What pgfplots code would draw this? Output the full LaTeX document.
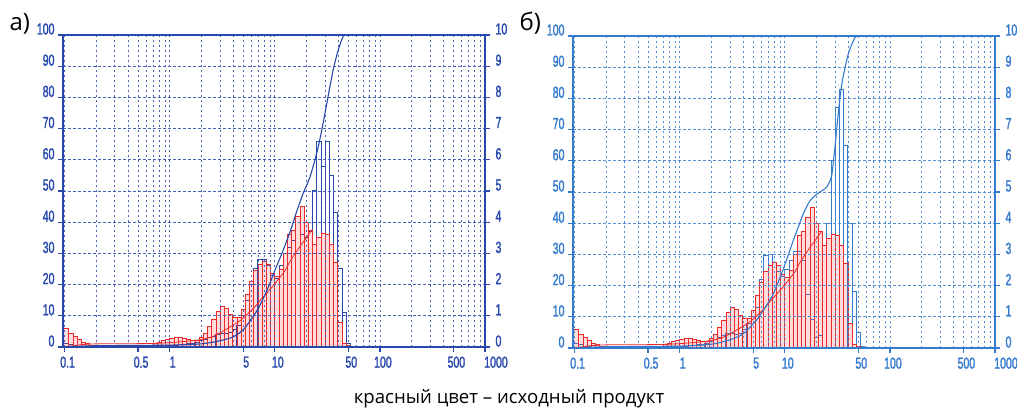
\documentclass[border=0pt]{standalone}
\usepackage{fontspec}
\setmainfont{Open Sans}
\newfontfamily\narrow[FakeStretch=0.66, FakeBold=1.5]{Liberation Sans}
\usepackage{pgfplots}
\usepackage{pgfplotstable}
\pgfplotsset{compat=1.18}

\definecolor{bA}{RGB}{40,72,172}
\definecolor{bB}{RGB}{52,122,205}
\definecolor{rd}{RGB}{238,40,40}

% red = initial product (same in both panels); dQ3 per bin, x = left bin edge
\pgfplotstableread{
x y
0.0965 0.6
0.1096 0.45
0.1202 0.33
0.1318 0.23
0.1445 0.16
0.1585 0.1
0.1738 0.06
0.1905 0.03
0.2089 0.02
0.2291 0
}\redLo
\pgfplotstableread{
x y
0.6310 0.05
0.6918 0.1
0.7586 0.15
0.8318 0.2
0.9120 0.25
1.0000 0.28
1.0965 0.3
1.2023 0.3
1.3183 0.28
1.4454 0.25
1.5849 0.22
1.7378 0.22
1.9055 0.3
2.0893 0.45
2.2909 0.65
2.5119 0.9
2.7542 1.15
3.0200 1.3
3.3113 1.25
3.6308 1.05
3.9811 0.95
4.3652 0.95
4.7863 1.2
5.2481 1.7
5.7544 2.1
6.3096 2.45
6.9183 2.65
7.5858 2.75
8.3176 2.65
9.1201 2.35
10.000 2.25
10.965 2.5
12.023 3.0
13.183 3.6
14.454 3.75
15.849 4.2
17.378 4.5
19.055 4.0
20.893 3.75
22.909 3.3
25.119 3.5
27.542 3.65
30.200 3.6
33.113 3.3
36.308 2.7
39.811 0.8
43.652 0.1
47.863 0.05
52.481 0
}\redMain
\pgfplotstableread{
x y
0.0965 0.12
0.1096 0.08
0.1202 0.05
0.1318 0.03
0.1445 0.02
0.1585 0
}\blueALo
\pgfplotstableread{
x y
0.8318 0.02
0.9120 0.04
1.0000 0.05
1.0965 0.06
1.2023 0.07
1.3183 0.08
1.4454 0.1
1.5849 0.12
1.7378 0.15
1.9055 0.2
2.0893 0.25
2.2909 0.3
2.5119 0.35
2.7542 0.4
3.0200 0.42
3.3113 0.42
3.6308 0.45
3.9811 0.55
4.3652 0.7
4.7863 1.0
5.2481 1.5
5.7544 2.0
6.3096 2.5
6.9183 2.8
7.5858 2.8
8.3176 2.6
9.1201 2.3
10.000 2.2
10.965 2.6
12.023 3.0
13.183 3.2
14.454 3.4
15.849 3.0
17.378 3.6
19.055 3.5
20.893 3.7
22.909 5.0
25.119 6.6
27.542 5.8
30.200 6.6
33.113 5.5
36.308 4.3
39.811 2.5
43.652 1.1
47.863 0.1
52.481 0
}\blueAMain
\pgfplotstableread{
x y
0.0965 0.15
0.1096 0.1
0.1202 0.06
0.1318 0.04
0.1445 0.02
0.1585 0
}\blueBLo
\pgfplotstableread{
x y
0.8318 0.02
0.9120 0.04
1.0000 0.05
1.0965 0.06
1.2023 0.07
1.3183 0.08
1.4454 0.1
1.5849 0.12
1.7378 0.15
1.9055 0.2
2.0893 0.28
2.2909 0.35
2.5119 0.4
2.7542 0.45
3.0200 0.45
3.3113 0.42
3.6308 0.45
3.9811 0.6
4.3652 0.8
4.7863 1.0
5.2481 1.3
5.7544 2.2
6.3096 2.95
6.9183 3.0
7.5858 2.75
8.3176 2.45
9.1201 2.3
10.000 2.5
10.965 2.8
12.023 3.1
13.183 3.1
14.454 2.8
15.849 1.7
17.378 0.9
19.055 0.35
20.893 0.4
22.909 2.0
25.119 4.0
27.542 6.0
30.200 7.7
33.113 8.3
36.308 6.5
39.811 4.0
43.652 1.8
47.863 0.5
52.481 0.05
57.544 0
}\blueBMain

\begin{document}
\begin{tikzpicture}
\useasboundingbox (0,0) rectangle (1017pt,411pt);

% ================= panel a : histograms (dQ3, right axis) =================
\begin{axis}[at={(63pt,64pt)}, anchor=south west,
   xmode=log, xmin=0.0965, xmax=1000, scale only axis, width=422pt, height=312pt,
   ymin=0, ymax=10,
   axis y line*=right, axis x line=none,
   ytick={0,1,2,3,4,5,6,7,8,9,10},
   yticklabels={0,1,2,3,4,5,6,7,8,9,10},
   tick align=outside, major tick length=5pt,
   axis line style={bA, line width=1.8pt},
   tick style={bA, line width=1.2pt},
   yticklabel style={font=\narrow\fontsize{16}{16}\selectfont, text=bA, yshift=6pt, xshift=2pt},
]
\addplot[const plot, draw=bA, line width=1pt] table {\blueALo};
\addplot[ycomb, draw=bA, line width=1pt] table {\blueALo};
\addplot[const plot, draw=bA, line width=1pt] table {\blueAMain};
\addplot[ycomb, draw=bA, line width=1pt] table {\blueAMain};
\addplot[const plot, draw=none, fill=rd, fill opacity=0.16] table {\redLo} \closedcycle;
\addplot[const plot, draw=rd, line width=0.75pt] table {\redLo};
\addplot[ycomb, draw=rd, line width=0.75pt] table {\redLo};
\addplot[const plot, draw=none, fill=rd, fill opacity=0.16] table {\redMain} \closedcycle;
\addplot[const plot, draw=rd, line width=0.75pt] table {\redMain};
\addplot[ycomb, draw=rd, line width=0.75pt] table {\redMain};
\end{axis}

% ================= panel a : cumulative (Q3, left axis) =================
\begin{axis}[at={(63pt,64pt)}, anchor=south west,
   xmode=log, xmin=0.0965, xmax=1000, scale only axis, width=422pt, height=312pt,
   ymin=0, ymax=100,
   ytick={0,10,20,30,40,50,60,70,80,90,100},
   yticklabels={0,10,20,30,40,50,60,70,80,90,100},
   xtick={0.1,0.5,1,5,10,50,100,500,1000},
   xticklabels={0.1,0.5,1,5,10,50,100,500,\hspace*{16pt}1000},
   minor xtick={0.2,0.3,0.4,0.6,0.7,0.8,0.9,2,3,4,6,7,8,9,20,30,40,60,70,80,90,200,300,400,600,700,800,900},
   xtick pos=left, ytick pos=left, tick align=outside,
   major tick length=5pt, minor tick length=0pt,
   ymajorgrids, xmajorgrids, xminorgrids,
   axis line style={bA, line width=1.8pt},
   tick style={bA, line width=1.2pt},
   x grid style={bA!85, dash pattern=on 2pt off 3pt, line width=0.7pt},
   y grid style={bA!85, dash pattern=on 3pt off 2pt, line width=0.9pt},
   ticklabel style={font=\narrow\fontsize{16}{16}\selectfont, text=bA},
   yticklabel style={yshift=6pt},
   xticklabel style={xshift=3pt, yshift=-1pt},
]
\addplot[rd, line width=0.8pt, smooth, tension=0.4] coordinates {
(0.0965,0)(0.12,0.4)(0.15,0.8)(0.2,1.0)(0.6,1.1)(1,1.4)(1.5,1.9)(2,2.4)(2.5,3.2)(3,4.5)(3.5,5.8)(4,7)(4.7,8.5)(5.5,10.5)(6.5,13)(7.5,15.5)(8.5,17.5)(9.6,19.5)(11,22)(12.5,24.5)(14,27.5)(16,30.5)(18,33)(20,35)(22.5,37.5)};
\addplot[bA, line width=1.1pt, smooth, tension=0.4] coordinates {
(0.0965,0)(0.2,0.4)(1,0.6)(2,1.0)(3,2.0)(4,3.2)(5,5.5)(6,9)(7,12.5)(8,16.5)(9,20.5)(10,24.5)(12,31)(14,37)(16,43)(18.5,49)(21.6,54.5)(25,62)(28,69.5)(32,80)(36,89)(40,95)(44,99)(48,100)(100,100)(1000,100)};
\node[anchor=base west, font=\narrow\fontsize{13}{13}\selectfont, text=bA, xshift=1pt, yshift=7pt] at (rel axis cs:0,1) {Q3(x)};
\node[anchor=base east, font=\narrow\fontsize{13}{13}\selectfont, text=bA, xshift=-6pt, yshift=7pt] at (rel axis cs:1,1) {dQ3(x)};
\node[anchor=center, font=\narrow\fontsize{14}{14}\selectfont, text=bA, xshift=37pt, yshift=-19pt] at (rel axis cs:1,0) {[µm]};
\end{axis}

% ================= panel b : histograms =================
\begin{axis}[at={(573pt,63pt)}, anchor=south west,
   xmode=log, xmin=0.0965, xmax=1000, scale only axis, width=422pt, height=312pt,
   ymin=0, ymax=10,
   axis y line*=right, axis x line=none,
   ytick={0,1,2,3,4,5,6,7,8,9,10},
   yticklabels={0,1,2,3,4,5,6,7,8,9,10},
   tick align=outside, major tick length=5pt,
   axis line style={bB, line width=1.8pt},
   tick style={bB, line width=1.2pt},
   yticklabel style={font=\narrow\fontsize{16}{16}\selectfont, text=bB, yshift=6pt, xshift=2pt},
]
\addplot[const plot, draw=bB, line width=1pt] table {\blueBLo};
\addplot[ycomb, draw=bB, line width=1pt] table {\blueBLo};
\addplot[const plot, draw=bB, line width=1pt] table {\blueBMain};
\addplot[ycomb, draw=bB, line width=1pt] table {\blueBMain};
\addplot[const plot, draw=none, fill=rd, fill opacity=0.16] table {\redLo} \closedcycle;
\addplot[const plot, draw=rd, line width=0.75pt] table {\redLo};
\addplot[ycomb, draw=rd, line width=0.75pt] table {\redLo};
\addplot[const plot, draw=none, fill=rd, fill opacity=0.16] table {\redMain} \closedcycle;
\addplot[const plot, draw=rd, line width=0.75pt] table {\redMain};
\addplot[ycomb, draw=rd, line width=0.75pt] table {\redMain};
\end{axis}

% ================= panel b : cumulative =================
\begin{axis}[at={(573pt,63pt)}, anchor=south west,
   xmode=log, xmin=0.0965, xmax=1000, scale only axis, width=422pt, height=312pt,
   ymin=0, ymax=100,
   ytick={0,10,20,30,40,50,60,70,80,90,100},
   yticklabels={0,10,20,30,40,50,60,70,80,90,100},
   xtick={0.1,0.5,1,5,10,50,100,500,1000},
   xticklabels={0.1,0.5,1,5,10,50,100,500,\hspace*{16pt}1000},
   minor xtick={0.2,0.3,0.4,0.6,0.7,0.8,0.9,2,3,4,6,7,8,9,20,30,40,60,70,80,90,200,300,400,600,700,800,900},
   xtick pos=left, ytick pos=left, tick align=outside,
   major tick length=5pt, minor tick length=0pt,
   ymajorgrids, xmajorgrids, xminorgrids,
   axis line style={bB, line width=1.8pt},
   tick style={bB, line width=1.2pt},
   x grid style={bB!85, dash pattern=on 2pt off 3pt, line width=0.7pt},
   y grid style={bB!85, dash pattern=on 3pt off 2pt, line width=0.9pt},
   ticklabel style={font=\narrow\fontsize{16}{16}\selectfont, text=bB},
   yticklabel style={yshift=6pt},
   xticklabel style={xshift=3pt, yshift=-1pt},
]
\addplot[rd, line width=0.8pt, smooth, tension=0.4] coordinates {
(0.0965,0)(0.12,0.4)(0.15,0.8)(0.2,1.0)(0.6,1.1)(1,1.4)(1.5,1.9)(2,2.4)(2.5,3.2)(3,4.5)(3.5,5.8)(4,7)(4.7,8.5)(5.5,10.5)(6.5,13)(7.5,15.5)(8.5,17.5)(9.6,19.5)(11,22)(12.5,24.5)(14,27.5)(16,30.5)(18,33)(20,35)(22.5,37.5)};
\addplot[bB, line width=1.1pt, smooth, tension=0.4] coordinates {
(0.0965,0)(0.2,0.4)(1,0.6)(2,1.2)(3,2.6)(4,4.5)(5.4,9)(6.5,13)(7.6,16.7)(8.5,20.5)(9.6,25)(10.7,29.5)(11.9,34)(13.5,39)(15,43)(17.2,47)(20.5,49.5)(24.9,51.5)(27.8,55)(29.7,63)(32,74)(35,85)(40,94)(45,98.5)(50,100)(100,100)(1000,100)};
\node[anchor=base west, font=\narrow\fontsize{13}{13}\selectfont, text=bB, xshift=1pt, yshift=7pt] at (rel axis cs:0,1) {Q3(x)};
\node[anchor=base east, font=\narrow\fontsize{13}{13}\selectfont, text=bB, xshift=-6pt, yshift=7pt] at (rel axis cs:1,1) {dQ3(x)};
\end{axis}

\node[anchor=base west, font=\fontsize{24}{24}\selectfont] at (6pt,380pt) {а)};
\node[anchor=base west, font=\fontsize{24}{24}\selectfont] at (516pt,380pt) {б)};
\node[font=\fontsize{18.6}{18.6}\selectfont] at (509pt,12pt) {красный цвет – исходный продукт};
\end{tikzpicture}
\end{document}
